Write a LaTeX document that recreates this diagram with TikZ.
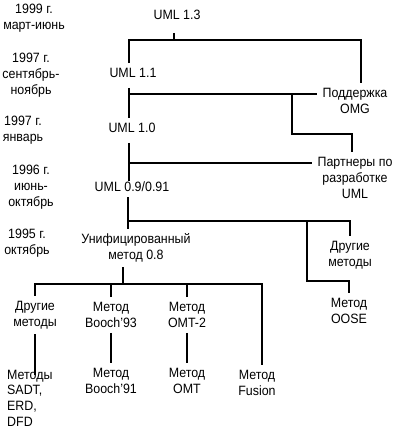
\documentclass[tikz,border=0pt]{standalone}
\usepackage{fontspec}
\setmainfont{Liberation Sans}[FakeStretch=0.92]
\usetikzlibrary{calc}
\tikzset{
    stage/.style={align=center, inner sep=5pt, font=\fontsize{13.5}{15.7}\selectfont},
    period/.style={align=center, inner sep=0pt, font=\fontsize{13.5}{15.7}\selectfont},
    link/.style={black, line width=2.8pt},
    }

\begin{document}
\begin{tikzpicture}[x=1pt, y=-1pt]
    \useasboundingbox (0,0) rectangle (398,428);

    % time line
    \node[period] (p1999)  at (34,18)  {1999 г.\\март-июнь};
    \node[period] (p1997b) at (31,75)  {1997 г.\\сентябрь-\\ноябрь};
    \node[period] (p1997a) at (23,130) {1997 г.\\январь};
    \node[period] (p1996)  at (31,187) {1996 г.\\июнь-\\октябрь};
    \node[period] (p1995)  at (27,243) {1995 г.\\октябрь};

    % versions
    \node[stage] (uml13)   at (177,15)  {UML 1.3};
    \node[stage] (uml11)   at (133,73)  {UML 1.1};
    \node[stage] (uml10)   at (132,128) {UML 1.0};
    \node[stage] (uml09)   at (132,187) {UML 0.9/0.91};
    \node[stage] (unified) at (136,248) {Унифицированный\\метод 0.8};

    % sources on the right
    \node[stage] (omg)      at (355,101) {Поддержка\\OMG};
    \node[stage] (partners) at (355,178) {Партнеры по\\разработке\\UML};
    \node[stage] (otherR)   at (350,255) {Другие\\методы};
    \node[stage] (oose)     at (349,311) {Метод\\OOSE};

    % methods
    \node[stage] (otherL)  at (35,315)  {Другие\\методы};
    \node[stage] (booch93) at (111,315) {Метод\\Booch'93};
    \node[stage] (omt2)    at (187,315) {Метод\\OMT-2};
    \node[stage, align=left, anchor=west, inner sep=0pt] (sadt) at (7,398) {Методы\\SADT,\\ERD,\\DFD};
    \node[stage] (booch91) at (111,381) {Метод\\Booch'91};
    \node[stage] (omt)     at (187,381) {Метод\\OMT};
    \node[stage] (fusion)  at (257,383) {Метод\\Fusion};

    % junctions
    \coordinate (j13) at (174,40);
    \coordinate (j11) at (129,94);
    \coordinate (j10) at (129,163);
    \coordinate (j09) at (128,221);
    \coordinate (j08) at (123,284);
    \coordinate (k11) at (292,134);
    \coordinate (k09) at (307,281);

    % links
    \draw[link, shorten <=8pt] (uml13.south -| j13) -- (j13);
    \draw[link] (uml11.north -| j11) |- (j13) -| ([xshift=6pt]omg.north);

    \draw[link, shorten <=5pt] (uml11.south -| j11) -- (uml10.north -| j11);
    \draw[link] (j11) -- (omg.west |- j11);
    \draw[link] (j11 -| k11) -- (k11) -| ([xshift=-3pt]partners.north);

    \draw[link, shorten <=5pt, shorten >=-4pt] (uml10.south -| j10) -- (uml09.north -| j10);
    \draw[link] (j10) -- (partners.west |- j10);

    \draw[link] (uml09.south -| j09) -- (unified.north -| j09);
    \draw[link] (j09) -| (otherR.north);
    \draw[link] (j09 -| k09) -- (k09) -| (oose.north);

    \draw[link] (unified.south -| j08) -- (j08);
    \draw[link] (otherL.north) |- (j08) -| ([xshift=5pt]fusion.north);
    \draw[link] (booch93.north) -- (booch93.north |- j08);
    \draw[link] (omt2.north) -- (omt2.north |- j08);

    \draw[link] (otherL.south) -- ([yshift=-5pt]otherL.south |- sadt.north);
    \draw[link] (booch93) -- (booch91);
    \draw[link] (omt2) -- (omt);

\end{tikzpicture}
\end{document}
